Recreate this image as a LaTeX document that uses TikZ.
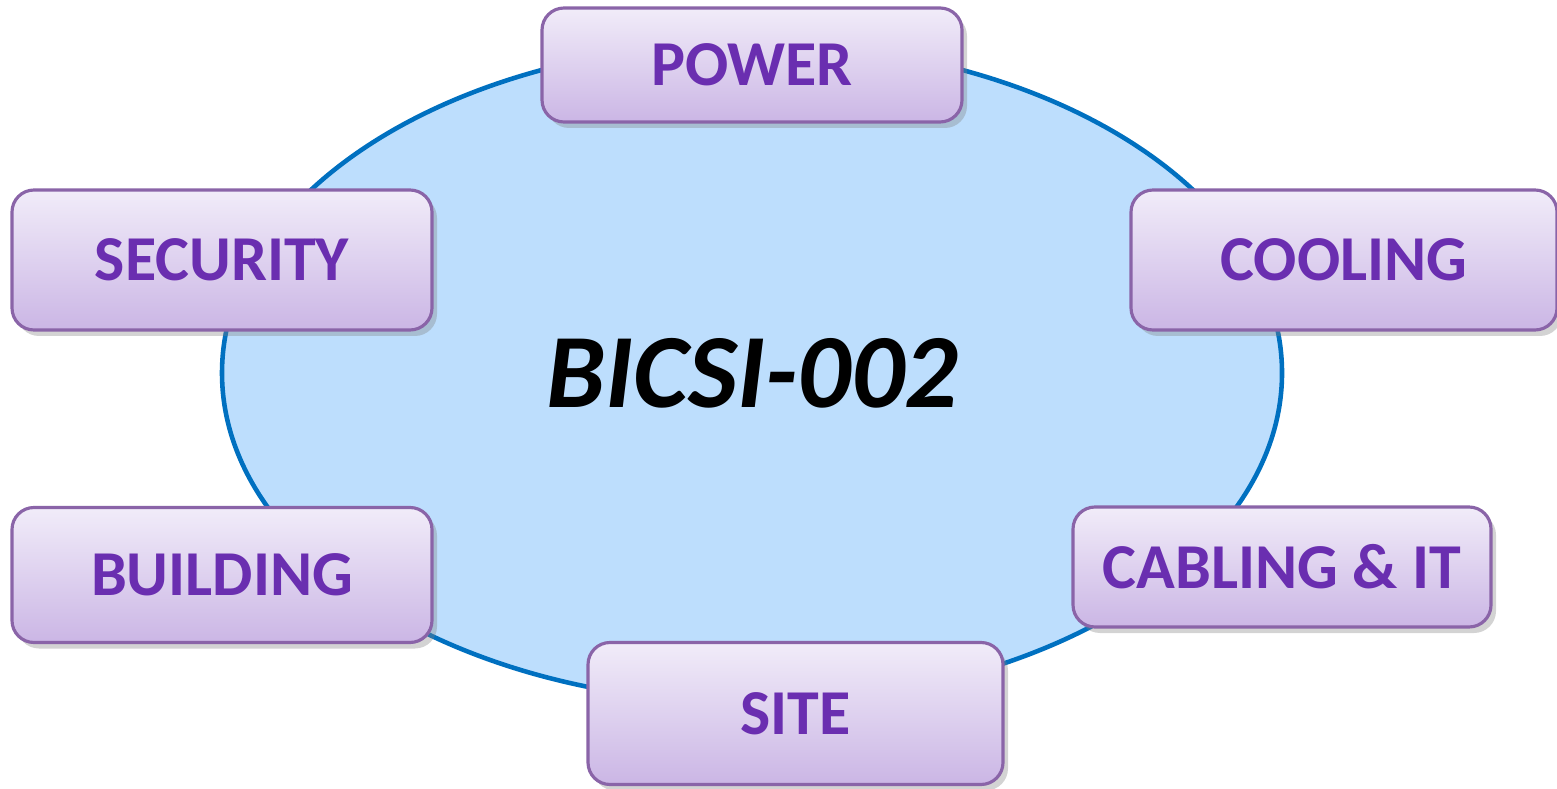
\documentclass[tikz,border=0pt]{standalone}
\usepackage{fontspec}
\setmainfont{Carlito}
\usetikzlibrary{shapes.geometric}
\usetikzlibrary{shadows}

\definecolor{ringblue}{HTML}{0070C0}
\definecolor{ringfill}{HTML}{BDDEFD}
\definecolor{boxline}{HTML}{8A64A8}
\definecolor{boxtop}{HTML}{F1ECF9}
\definecolor{boxbottom}{HTML}{CBB6E5}
\definecolor{boxtext}{HTML}{6A2EB0}

\begin{document}
\begin{tikzpicture}[
  area/.style={draw=boxline, line width=0.9pt, rounded corners=0.22cm,
    top color=boxtop, bottom color=boxbottom,
    drop shadow={shadow xshift=0.05cm, shadow yshift=-0.06cm, opacity=0.35},
    text=boxtext, font=\fontsize{18.2}{22}\selectfont\bfseries, inner sep=0pt}
]
  \useasboundingbox (0,0) rectangle (15.57,7.88);

  \node[ellipse, draw=ringblue, line width=1.3pt, fill=ringfill,
    minimum width=10.6cm, minimum height=6.6cm, inner sep=0pt,
    font=\fontsize{30}{36}\selectfont\bfseries\itshape] (Std) at (7.52,4.15) {BICSI-002};

  \node[area, minimum width=4.2cm, minimum height=1.14cm] (Power) at (7.52,7.23) {POWER};
  \node[area, minimum width=4.2cm, minimum height=1.4cm] (Security) at (2.22,5.28) {SECURITY};
  \node[area, minimum width=4.26cm, minimum height=1.4cm] (Cooling) at (13.44,5.28) {COOLING};
  \node[area, minimum width=4.2cm, minimum height=1.35cm] (Building) at (2.22,2.13) {BUILDING};
  \node[area, minimum width=4.18cm, minimum height=1.2cm] (Cabling) at (12.82,2.21) {CABLING \& IT};
  \node[area, minimum width=4.15cm, minimum height=1.42cm] (Site) at (7.955,0.745) {SITE};

\end{tikzpicture}
\end{document}
